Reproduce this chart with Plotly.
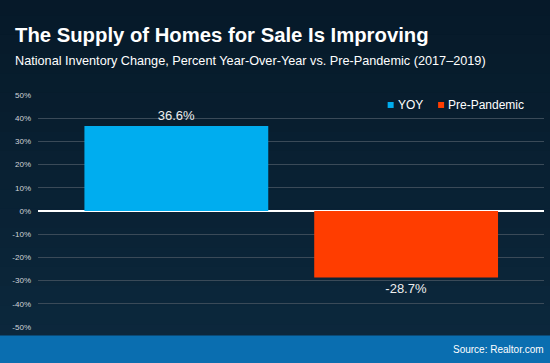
import plotly.graph_objects as go

categories = ["YOY", "Pre-Pandemic"]
values = [36.6, -28.7]
labels = ["36.6%", "-28.7%"]
colors = ["#00adef", "#ff3d00"]
tick_vals = [50, 40, 30, 20, 10, 0, -10, -20, -30, -40, -50]
tick_text = [f"{v}%" for v in tick_vals]

W, H = 550, 363
fig = go.Figure()

for i, (c, v, lab, col) in enumerate(zip(categories, values, labels, colors)):
    fig.add_trace(go.Bar(
        x=[i], y=[v], width=0.8, marker=dict(color=col, line=dict(width=0)),
        text=[lab], textposition="outside", textfont=dict(color="#eeeeee", size=13, family="Liberation Sans"),
        cliponaxis=False, showlegend=False, name=c, hoverinfo="skip",
    ))

shapes = []
# gradient background
n = 24
top = (6, 25, 40)
bot = (14, 44, 66)
for k in range(n):
    t = k / (n - 1)
    r = int(top[0] + (bot[0] - top[0]) * t)
    g = int(top[1] + (bot[1] - top[1]) * t)
    b = int(top[2] + (bot[2] - top[2]) * t)
    shapes.append(dict(type="rect", xref="paper", yref="paper", layer="below",
                       x0=-1, x1=2, y0=1.5 - (k + 1) * (2.0 / n), y1=1.5 - k * (2.0 / n) + 0.01,
                       fillcolor=f"rgb({r},{g},{b})", line=dict(width=0)))

ml, mr, mt, mb = 37.5, 6, 95, 35.5
pw = W - ml - mr
ph = H - mt - mb
def px(x):
    return (x - ml) / pw
def py(y):
    return (H - mb - y) / ph

# bottom band
shapes.append(dict(type="rect", xref="paper", yref="paper", layer="below",
                   x0=px(-5), x1=px(W + 5), y0=py(H + 5), y1=py(336),
                   fillcolor="#0a6eb0", line=dict(width=0)))

annotations = []
# legend
leg = [("YOY", colors[0], 390.5, 395.5), ("Pre-Pandemic", colors[1], 441, 445.5)]
for name, col, sx, tx in leg:
    shapes.append(dict(type="rect", xref="paper", yref="paper", layer="above",
                       x0=px(sx - 3), x1=px(sx + 3), y0=py(108), y1=py(102),
                       fillcolor=col, line=dict(width=0)))
    annotations.append(dict(xref="paper", yref="paper", x=px(tx), y=py(105.5), text=name,
                            showarrow=False, xanchor="left", yanchor="middle",
                            font=dict(color="#ffffff", size=12, family="Liberation Sans")))

annotations.append(dict(xref="paper", yref="paper", x=px(12.5), y=py(34.5), text="<b>The Supply of Homes for Sale Is Improving</b>",
                        showarrow=False, xanchor="left", yanchor="middle",
                        font=dict(color="#ffffff", size=20.3, family="Liberation Sans")))
annotations.append(dict(xref="paper", yref="paper", x=px(12.5), y=py(61), text="National Inventory Change, Percent Year-Over-Year vs. Pre-Pandemic (2017–2019)",
                        showarrow=False, xanchor="left", yanchor="middle",
                        font=dict(color="#ffffff", size=12.7, family="Liberation Sans")))
annotations.append(dict(xref="paper", yref="paper", x=px(546), y=py(350.5), text="Source: Realtor.com",
                        showarrow=False, xanchor="right", yanchor="middle",
                        font=dict(color="#ffffff", size=10, family="Liberation Sans")))

fig.update_layout(
    width=W, height=H,
    margin=dict(l=ml, r=mr, t=mt, b=mb, pad=0),
    paper_bgcolor="#0a2233", plot_bgcolor="rgba(0,0,0,0)",
    shapes=shapes, annotations=annotations, showlegend=False,
    xaxis=dict(range=[-0.602, 1.6], showticklabels=False, showgrid=False, zeroline=False, fixedrange=True),
    yaxis=dict(range=[-50, 50], tickvals=tick_vals, ticktext=tick_text, showgrid=True,
               gridcolor="#3a4a58", gridwidth=1, zeroline=True, zerolinecolor="#ffffff", zerolinewidth=1.5,
               tickfont=dict(color="#d0d4d8", size=8, family="Liberation Sans"), ticks="", ticklabelstandoff=6,
               showline=False, fixedrange=True),
    font=dict(family="Liberation Sans"),
    hovermode=False,
)

fig.write_html("out.html", config={"displayModeBar": False, "staticPlot": True},
               post_script="document.body.style.margin='0px';document.body.style.overflow='hidden';")
